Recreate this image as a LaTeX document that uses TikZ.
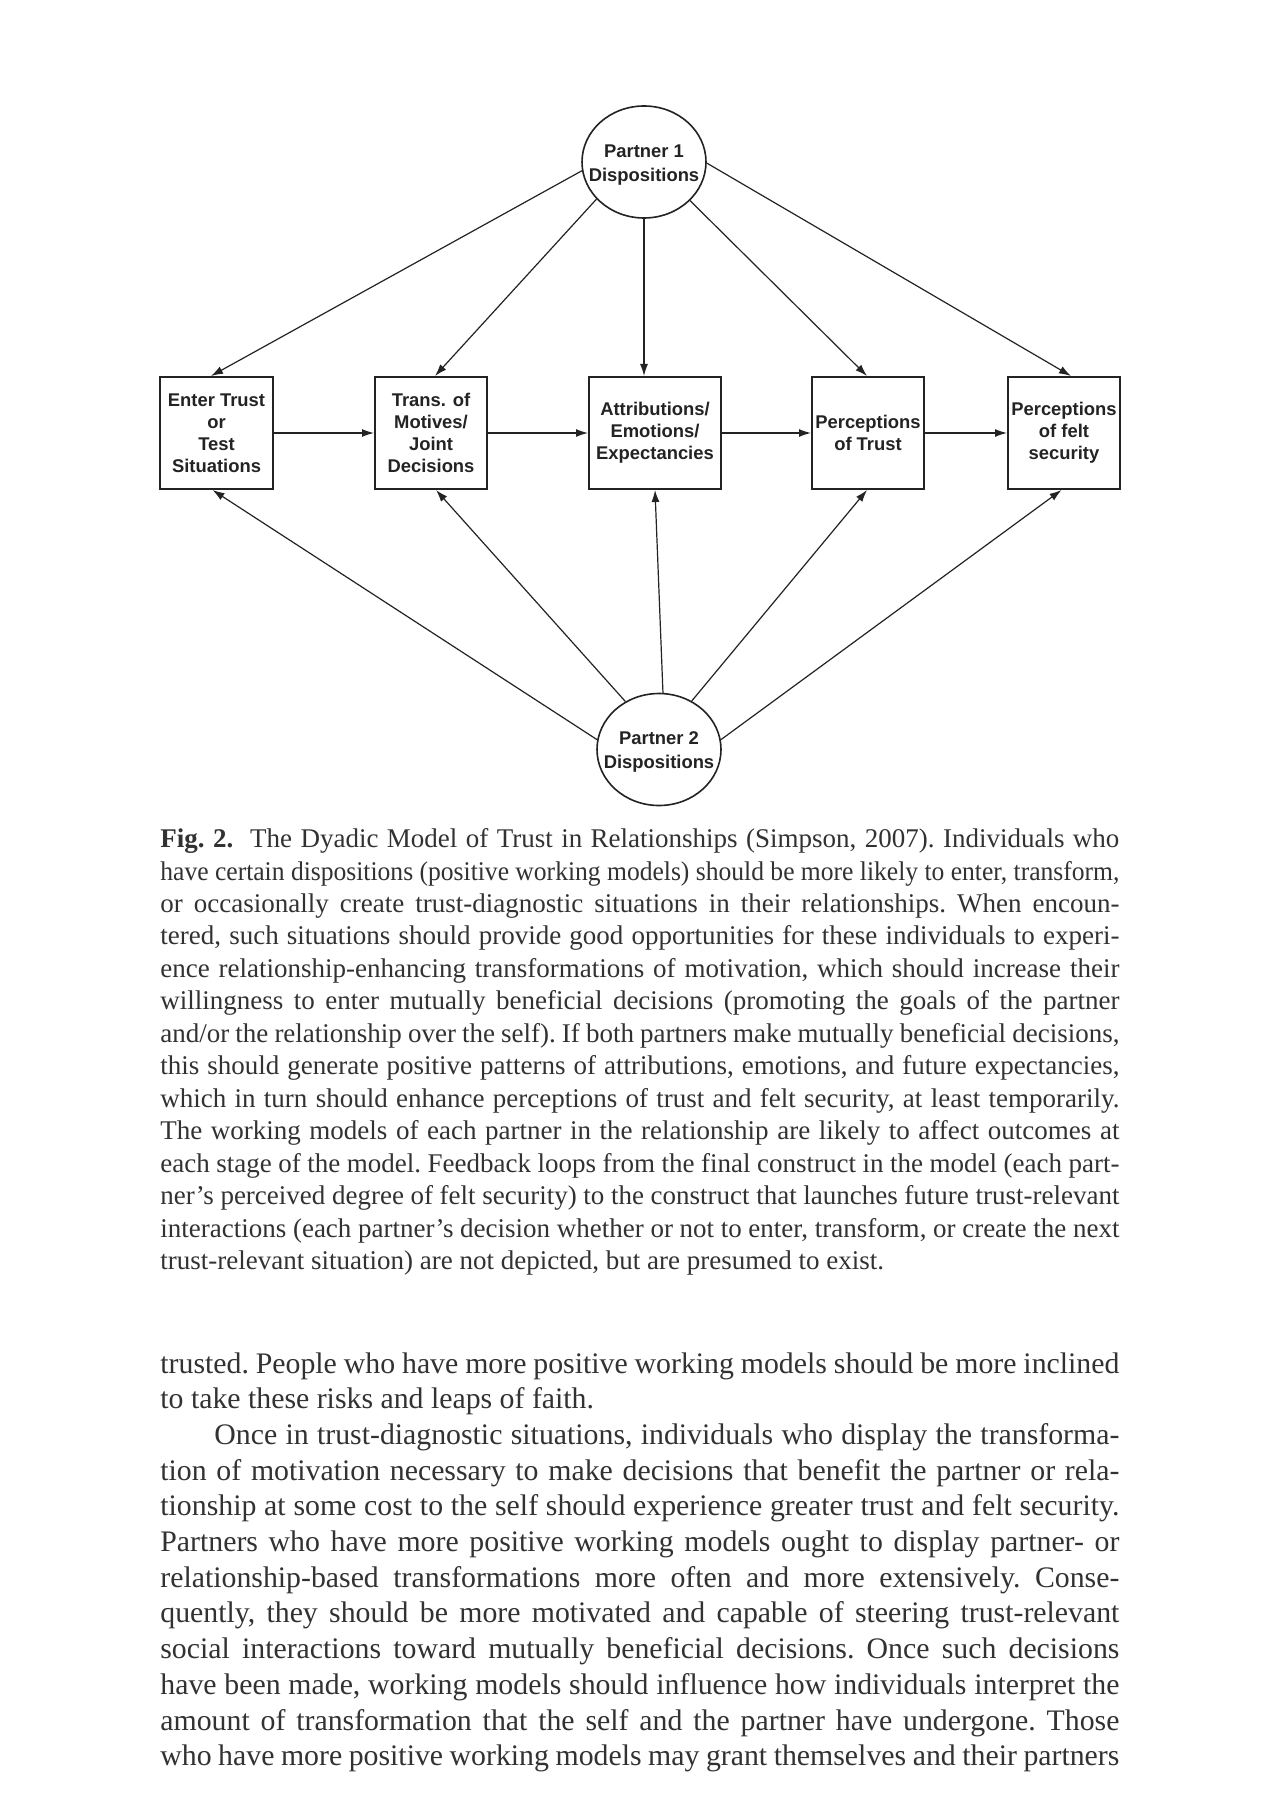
\documentclass[tikz,border=0pt]{standalone}
\usepackage{fontspec}
\setmainfont{Liberation Serif}
\newfontfamily\diagfont{Liberation Sans}
\usetikzlibrary{arrows.meta,shapes.geometric}
\definecolor{ink}{RGB}{35,35,35}
\definecolor{txt}{RGB}{50,50,50}
\newcommand\capfont{\fontsize{13.5pt}{16.4pt}\selectfont\frenchspacing\spaceskip=.25em plus .8em minus .12em\relax}
\newcommand\bodyfont{\fontsize{14.9pt}{18pt}\selectfont\frenchspacing\spaceskip=.25em plus .8em minus .12em\relax}
\newcommand\jl[1]{\makebox[479.5pt][s]{#1}}
\newcommand\jlfit[1]{\resizebox{479.5pt}{\height}{\mbox{#1}}}
\newcommand\jli[1]{\makebox[452.5pt][s]{#1}}
\begin{document}
\begin{tikzpicture}[x=0.5pt,y=-0.5pt,
  box/.style={draw=ink,line width=1pt,minimum height=56pt,inner sep=0pt,align=center,
    font=\diagfont\bfseries\fontsize{9.2pt}{11pt}\selectfont,text=ink},
  ell/.style={draw=ink,ellipse,line width=0.8pt,minimum width=62pt,minimum height=56pt,inner sep=0pt},
  lbl/.style={inner sep=0pt,align=center,font=\diagfont\bfseries\fontsize{9.2pt}{11.7pt}\selectfont,text=ink},
  conn/.style={draw=ink,line width=0.6pt,-{Latex[length=6pt,width=4pt]}},
  capline/.style={anchor=base west,inner sep=0pt,text=txt,font=\capfont},
  bodyline/.style={anchor=base west,inner sep=0pt,text=txt,font=\bodyfont}]
\fill[white] (0,0) rectangle (1280,1813);
\useasboundingbox (0,0) rectangle (1280,1813);

% ellipses
\node[ell] (p1) at (644,162) {};
\node[lbl] (p1t) at (644,165) {Partner 1\\Dispositions};
\node[ell] (p2) at (659,749.5) {};
\node[lbl] (p2t) at (659,752) {Partner 2\\Dispositions};

% boxes
\node[box,minimum width=56.5pt] (b1) at (216.5,433) {Enter Trust\\or\\Test\\Situations};
\node[box,minimum width=56pt] (b2) at (431,433) {Trans. of\\Motives/\\Joint\\Decisions};
\node[box,minimum width=66pt] (b3) at (655,433) {Attributions/\\Emotions/\\Expectancies};
\node[box,minimum width=56pt] (b4) at (868,433) {Perceptions\\of Trust};
\node[box,minimum width=56pt] (b5) at (1064,433) {Perceptions\\of felt\\security};

% horizontal chain
\draw[conn] (b1.east) -- (b2.west);
\draw[conn] (b2.east) -- (b3.west);
\draw[conn] (b3.east) -- (b4.west);
\draw[conn] (b4.east) -- (b5.west);

% partner 1
\draw[conn] (p1.188) -- ([xshift=-2.75pt]b1.north);
\draw[conn] (p1.218) -- ([xshift=2pt]b2.north);
\draw[conn] (p1.south) -- (p1.south |- b3.north);
\draw[conn] (p1.320) -- ([xshift=-0.5pt]b4.north);
\draw[conn] (p1.359) -- ([xshift=3.5pt]b5.north);

% partner 2
\draw[conn] (p2.171) -- ([xshift=-2pt]b1.south);
\draw[conn] (p2.125) -- ([xshift=2.5pt]b2.south);
\draw[conn] (p2.86) -- (b3.south);
\draw[conn] (p2.56) -- ([xshift=-0.5pt]b4.south);
\draw[conn] (p2.9) -- ([xshift=-1.25pt]b5.south);

% caption
\node[capline] (c1) at (160,847.5) {\jl{\textbf{Fig. 2.}\ \ The Dyadic Model of Trust in Relationships (Simpson, 2007). Individuals who}};
\node[capline] (c2) at (160,880) {\jlfit{have certain dispositions (positive working models) should be more likely to enter, transform,}};
\node[capline] (c3) at (160,912.4) {\jl{or occasionally create trust-diagnostic situations in their relationships. When encoun-}};
\node[capline] (c4) at (160,944.9) {\jl{tered, such situations should provide good opportunities for these individuals to experi-}};
\node[capline] (c5) at (160,977.3) {\jl{ence relationship-enhancing transformations of motivation, which should increase their}};
\node[capline] (c6) at (160,1009.8) {\jl{willingness to enter mutually beneficial decisions (promoting the goals of the partner}};
\node[capline] (c7) at (160,1042.3) {\jl{and/or the relationship over the self). If both partners make mutually beneficial decisions,}};
\node[capline] (c8) at (160,1074.7) {\jl{this should generate positive patterns of attributions, emotions, and future expectancies,}};
\node[capline] (c9) at (160,1107.2) {\jl{which in turn should enhance perceptions of trust and felt security, at least temporarily.}};
\node[capline] (c10) at (160,1139.6) {\jl{The working models of each partner in the relationship are likely to affect outcomes at}};
\node[capline] (c11) at (160,1172.1) {\jl{each stage of the model. Feedback loops from the final construct in the model (each part-}};
\node[capline] (c12) at (160,1204.6) {\jl{ner’s perceived degree of felt security) to the construct that launches future trust-relevant}};
\node[capline] (c13) at (160,1237) {\jl{interactions (each partner’s decision whether or not to enter, transform, or create the next}};
\node[capline] (c14) at (160,1269.5) {trust-relevant situation) are not depicted, but are presumed to exist.};

% body text
\node[bodyline] (t1) at (160,1373) {\jl{trusted. People who have more positive working models should be more inclined}};
\node[bodyline] (t2) at (160,1408.7) {to take these risks and leaps of faith.};
\node[bodyline] (t3) at (214,1444.4) {\jli{Once in trust-diagnostic situations, individuals who display the transforma-}};
\node[bodyline] (t4) at (160,1480.1) {\jl{tion of motivation necessary to make decisions that benefit the partner or rela-}};
\node[bodyline] (t5) at (160,1515.8) {\jl{tionship at some cost to the self should experience greater trust and felt security.}};
\node[bodyline] (t6) at (160,1551.5) {\jl{Partners who have more positive working models ought to display partner- or}};
\node[bodyline] (t7) at (160,1587.2) {\jl{relationship-based transformations more often and more extensively. Conse-}};
\node[bodyline] (t8) at (160,1622.9) {\jl{quently, they should be more motivated and capable of steering trust-relevant}};
\node[bodyline] (t9) at (160,1658.6) {\jl{social interactions toward mutually beneficial decisions. Once such decisions}};
\node[bodyline] (t10) at (160,1694.3) {\jl{have been made, working models should influence how individuals interpret the}};
\node[bodyline] (t11) at (160,1730) {\jl{amount of transformation that the self and the partner have undergone. Those}};
\node[bodyline] (t12) at (160,1765.7) {\jl{who have more positive working models may grant themselves and their partners}};
\end{tikzpicture}
\end{document}
